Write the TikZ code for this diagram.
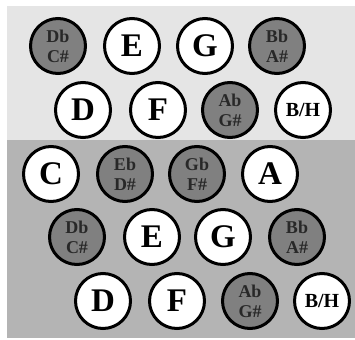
\documentclass[tikz,border=0pt]{standalone}
\usepackage{fontspec}
\setmainfont{Liberation Serif}
\usepackage{xcolor}
\usepackage{tikz}
\usetikzlibrary{positioning}

\begin{document}
\begin{tikzpicture}[x=1pt, y=-1pt]
    % Define colors
    \definecolor{panellight}{RGB}{229, 229, 229}
    \definecolor{paneldark}{RGB}{180, 180, 180}
    \definecolor{keydark}{RGB}{128, 128, 128}
    \definecolor{inkdark}{RGB}{40, 40, 40}

    \tikzset{
        whitekey/.style={circle, draw=black, line width=3pt, fill=white,
            minimum size=55pt, inner sep=0pt, font=\fontsize{33}{33}\selectfont\bfseries},
        blackkey/.style={circle, draw=black, line width=3pt, fill=keydark,
            minimum size=55pt, inner sep=0pt, align=center, text=inkdark,
            font=\fontsize{18}{20}\selectfont\bfseries},
        smallkey/.style={whitekey, font=\fontsize{20}{20}\selectfont\bfseries}
    }

    \useasboundingbox (0, 0) rectangle (355, 339);

    % Panels
    \fill[panellight] (7, 6) rectangle (355, 140);
    \fill[paneldark] (7, 140) rectangle (355, 338);

    % Upper panel, row 1
    \node[blackkey] (ua1) at (58, 46) {Db\\C\#};
    \node[whitekey] (ua2) at (132, 46) {E};
    \node[whitekey] (ua3) at (205, 46) {G};
    \node[blackkey] (ua4) at (277, 46) {Bb\\A\#};

    % Upper panel, row 2
    \node[whitekey] (ub1) at (83, 110) {D};
    \node[whitekey] (ub2) at (158, 110) {F};
    \node[blackkey] (ub3) at (230, 110) {Ab\\G\#};
    \node[smallkey] (ub4) at (303, 110) {B/H};

    % Lower panel, row 1
    \node[whitekey] (la1) at (51, 174) {C};
    \node[blackkey] (la2) at (125, 174) {Eb\\D\#};
    \node[blackkey] (la3) at (197, 174) {Gb\\F\#};
    \node[whitekey] (la4) at (270, 174) {A};

    % Lower panel, row 2
    \node[blackkey] (lb1) at (77, 237) {Db\\C\#};
    \node[whitekey] (lb2) at (152, 237) {E};
    \node[whitekey] (lb3) at (223, 237) {G};
    \node[blackkey] (lb4) at (297, 237) {Bb\\A\#};

    % Lower panel, row 3
    \node[whitekey] (lc1) at (103, 301) {D};
    \node[whitekey] (lc2) at (177, 301) {F};
    \node[blackkey] (lc3) at (250, 301) {Ab\\G\#};
    \node[smallkey] (lc4) at (322, 301) {B/H};
\end{tikzpicture}
\end{document}
